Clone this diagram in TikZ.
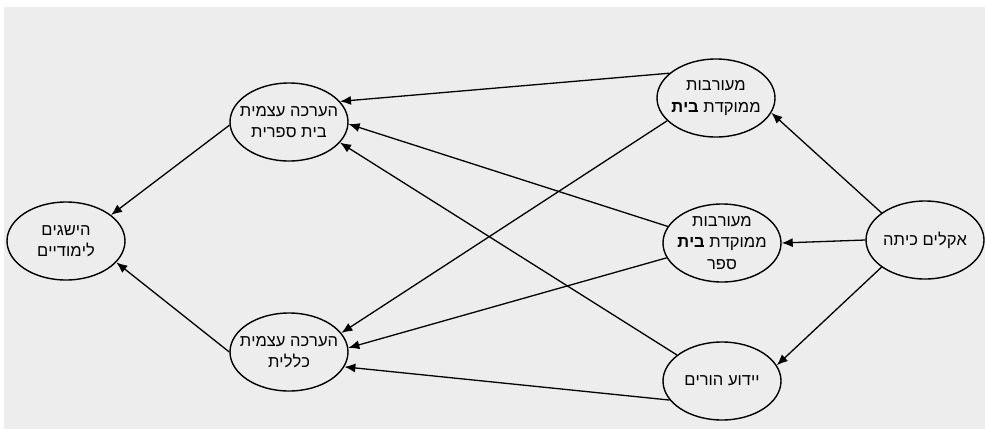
\documentclass[tikz,border=0pt]{standalone}
\usepackage{fontspec}
\setmainfont{Liberation Sans}
\TeXXeTstate=1
\usetikzlibrary{shapes.geometric,arrows.meta}
\definecolor{bg}{HTML}{EDEDED}
\begin{document}
\begin{tikzpicture}[x=1pt,y=-1pt,
  oval/.style={ellipse,draw,line width=1.4pt,minimum width=118pt,minimum height=78pt,inner sep=0pt},
  lab/.style={align=center,inner sep=0pt,font=\fontsize{16.5}{21.5}\selectfont},
  arr/.style={draw,line width=1.3pt,-{Latex[length=11pt,width=9pt]}}]
\useasboundingbox (0,0) rectangle (985,429);
\fill[white] (0,0) rectangle (985,429);
\fill[bg] (4,7) rectangle (985,429);
\node[oval,label={[lab]center:{\beginR הישגים\endR\\\beginR לימודיים\endR}}] (A) at (66,241) {};
\node[oval,label={[lab]center:{\beginR הערכה עצמית\endR\\\beginR בית ספרית\endR}}] (B) at (289,122) {};
\node[oval,label={[lab]center:{\beginR הערכה עצמית\endR\\\beginR כללית\endR}}] (C) at (289,352) {};
\node[oval,label={[lab]center:{\beginR מעורבות\endR\\\beginR ממוקדת \textbf{בית}\endR}}] (D) at (716,98) {};
\node[oval,label={[lab]center:{\beginR מעורבות\endR\\\beginR ממוקדת \textbf{בית}\endR\\\beginR ספר\endR}}] (E) at (722,243) {};
\node[oval,label={[lab]center:{\beginR יידוע הורים\endR}}] (F) at (722,381) {};
\node[oval,label={[lab]center:{\beginR אקלים כיתה\endR}}] (G) at (925,240) {};
\draw[arr] (B.183) -- (A.30);
\draw[arr] (C.180) -- (A.-23);
\draw[arr] (D.152) -- (B.22);
\draw[arr] (D.205) -- (C.20);
\draw[arr] (E.163) -- (B.-2);
\draw[arr] (E.195) -- (C.4);
\draw[arr] (F.150) -- (B.-22);
\draw[arr] (F.200) -- (C.-15);
\draw[arr] (G.148) -- (D.-15);
\draw[arr] (G.180) -- (E.0);
\draw[arr] (G.212) -- (F.16);
\end{tikzpicture}
\end{document}
